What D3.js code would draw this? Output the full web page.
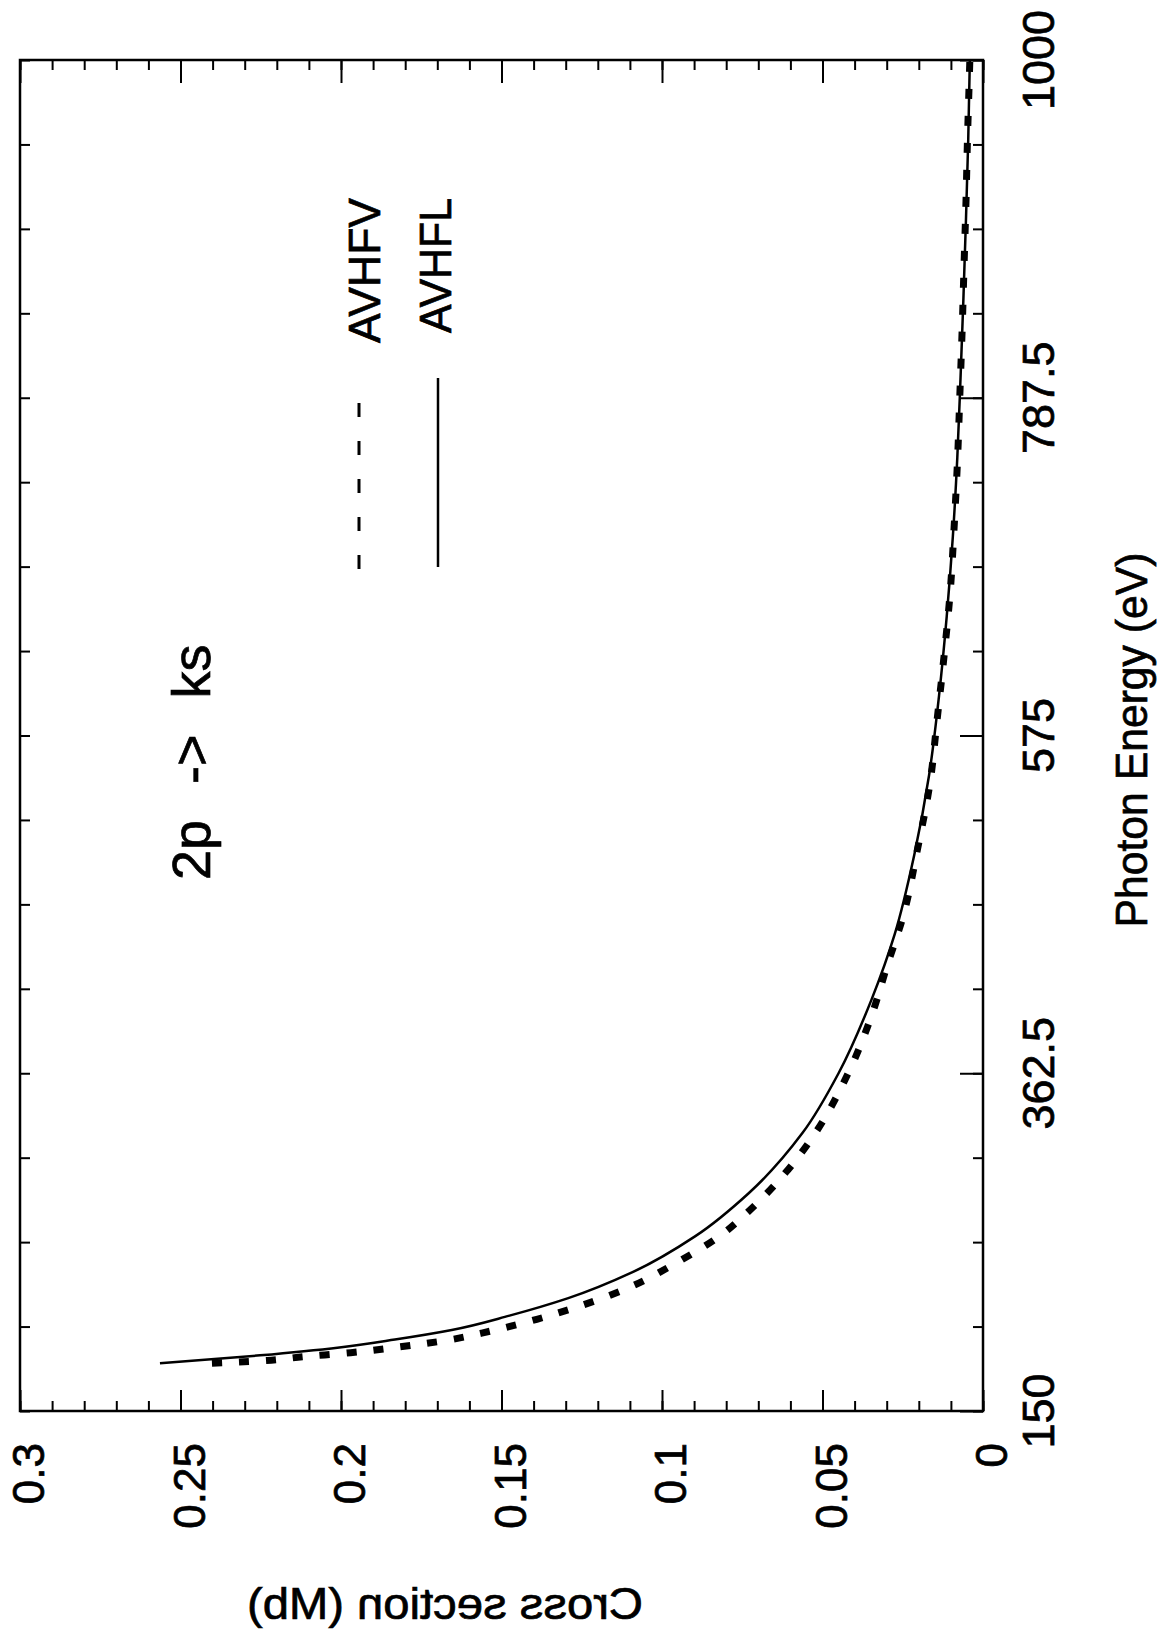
<!DOCTYPE html>
<html><head><meta charset="utf-8">
<script src="https://cdn.jsdelivr.net/npm/d3@7"></script>
<style>
body{margin:0;background:#fff}
text{font-family:"Liberation Sans",Arial,Helvetica,sans-serif;fill:#000;stroke:#000;stroke-width:0.7px}
</style>
</head><body>
<svg id="c" width="1174" height="1634"></svg>
<script>
// AVHFL (solid line): photon energy (eV) and cross section (Mb)
const energyL = [180, 185, 190, 195, 201, 210, 221, 237.5, 260, 287, 325, 362.5, 409, 450, 500, 550, 600, 650, 700, 750, 800, 850, 900, 950, 1000];
const sigmaL  = [0.2564, 0.2252, 0.2005, 0.1832, 0.1655, 0.1475, 0.1292, 0.1090, 0.0896, 0.0730, 0.0562, 0.0450, 0.0347, 0.0275, 0.0214, 0.0168, 0.0137, 0.0113, 0.0094, 0.0080, 0.0070, 0.0061, 0.0053, 0.0046, 0.0041];
// AVHFV (dashed line)
const energyV = [180, 181.5, 184.2, 186.7, 190.1, 194.2, 200.3, 207.7, 216.3, 227.8, 242.9, 261.8, 273.8, 300, 325, 362.5, 400, 428.7, 463.4, 503.5, 545.3, 584.9, 625.6, 665.9, 705.9, 750, 790, 830, 871, 911, 953, 993, 1000];
const sigmaV  = [0.2402, 0.2254, 0.2114, 0.1970, 0.1826, 0.1679, 0.1534, 0.1390, 0.1252, 0.1102, 0.0958, 0.0809, 0.0740, 0.0615, 0.0522, 0.0420, 0.0345, 0.0301, 0.0246, 0.0204, 0.0165, 0.0143, 0.0121, 0.0102, 0.0090, 0.0079, 0.0072, 0.0065, 0.0059, 0.0053, 0.0048, 0.0042, 0.0041];

const energyTicks = [150, 362.5, 575, 787.5, 1000];
const energyTickLabels = ["150", "362.5", "575", "787.5", "1000"];
const sigmaTicks = [0, 0.05, 0.1, 0.15, 0.2, 0.25, 0.3];
const sigmaTickLabels = ["0", "0.05", "0.1", "0.15", "0.2", "0.25", "0.3"];
const seriesNames = ["AVHFV", "AVHFL"];
const annotation = "2p -> ks";
const xTitle = "Photon Energy (eV)";
const yTitle = "Cross section (Mb)";

const svg = d3.select("#c");
const L = 20, R = 983, T = 60, B = 1411;
// The figure is rotated: cross section runs horizontally (0 at right), energy vertically (150 at bottom)
const sx = d3.scaleLinear().domain([0.3, 0]).range([L, R]);
const ey = d3.scaleLinear().domain([150, 1000]).range([B, T]);

const energyMinor = d3.range(0, 17).map(i => 150 + i * 53.125);
const sigmaMinor = d3.range(0, 31).map(i => i * 0.01);

function styleAxis(g) {
  g.select(".domain").remove();
  g.selectAll(".tick line").attr("stroke", "#000").attr("stroke-width", 2);
  g.selectAll(".tick text").remove();
}
// bottom (ticks upward)
svg.append("g").attr("transform", `translate(0,${B})`).call(d3.axisTop(sx).tickValues(sigmaMinor).tickSize(10)).call(styleAxis);
svg.append("g").attr("transform", `translate(0,${B})`).call(d3.axisTop(sx).tickValues(sigmaTicks).tickSize(21)).call(styleAxis);
// top (ticks downward)
svg.append("g").attr("transform", `translate(0,${T})`).call(d3.axisBottom(sx).tickValues(sigmaMinor).tickSize(10)).call(styleAxis);
svg.append("g").attr("transform", `translate(0,${T})`).call(d3.axisBottom(sx).tickValues(sigmaTicks).tickSize(23)).call(styleAxis);
// left (ticks to the right)
svg.append("g").attr("transform", `translate(${L},0)`).call(d3.axisRight(ey).tickValues(energyMinor).tickSize(10)).call(styleAxis);
// right (ticks to the left)
svg.append("g").attr("transform", `translate(${R},0)`).call(d3.axisLeft(ey).tickValues(energyMinor).tickSize(10)).call(styleAxis);
svg.append("g").attr("transform", `translate(${R},0)`).call(d3.axisLeft(ey).tickValues(energyTicks).tickSize(23)).call(styleAxis);

svg.append("rect").attr("x", L).attr("y", T).attr("width", R - L).attr("height", B - T)
  .attr("fill", "none").attr("stroke", "#000").attr("stroke-width", 2.5);

// tick labels
svg.append("g").selectAll("text").data(energyTicks).join("text")
  .attr("transform", d => `translate(1038,${ey(d)}) rotate(-90)`)
  .attr("text-anchor", "middle").attr("dy", "0.35em").attr("font-size", 45)
  .text((d, i) => energyTickLabels[i]);
svg.append("g").selectAll("text").data(sigmaTicks).join("text")
  .attr("transform", d => `translate(${sx(d) + 9},1443) rotate(-90)`)
  .attr("text-anchor", "end").attr("dy", "0.35em").attr("font-size", 44)
  .text((d, i) => sigmaTickLabels[i]);

// axis titles
svg.append("text").attr("transform", "translate(1147,740) rotate(-90)")
  .attr("text-anchor", "middle").attr("font-size", 44)
  .attr("textLength", 375).attr("lengthAdjust", "spacingAndGlyphs").text(xTitle);
svg.append("text").attr("transform", "translate(445,1619) scale(-1,1)")
  .attr("text-anchor", "middle").attr("font-size", 44)
  .attr("textLength", 396).attr("lengthAdjust", "spacingAndGlyphs").text(yTitle);

// annotation
svg.append("text").attr("transform", "translate(210,880) rotate(-90)")
  .attr("text-anchor", "start").attr("font-size", 54).style("word-spacing", "21px").text(annotation);

// curves
const line = (es, ss) => d3.line().x((d, i) => sx(ss[i])).y(d => ey(d)).curve(d3.curveMonotoneY)(es);
svg.append("path").attr("d", line(energyL, sigmaL)).attr("fill", "none").attr("stroke", "#000").attr("stroke-width", 2.5);
svg.append("path").attr("d", line(energyV, sigmaV)).attr("fill", "none").attr("stroke", "#000")
  .attr("stroke-width", 7).attr("stroke-dasharray", "10,17");

// legend
svg.append("line").attr("x1", 359).attr("x2", 359).attr("y1", 403).attr("y2", 570)
  .attr("stroke", "#000").attr("stroke-width", 3).attr("stroke-dasharray", "14,24");
svg.append("line").attr("x1", 438).attr("x2", 438).attr("y1", 378).attr("y2", 567)
  .attr("stroke", "#000").attr("stroke-width", 2.5);
svg.append("text").attr("transform", "translate(380,198) rotate(-90)").attr("text-anchor", "end")
  .attr("font-size", 44).attr("textLength", 145).attr("lengthAdjust", "spacingAndGlyphs").text(seriesNames[0]);
svg.append("text").attr("transform", "translate(451,198) rotate(-90)").attr("text-anchor", "end")
  .attr("font-size", 44).attr("textLength", 135).attr("lengthAdjust", "spacingAndGlyphs").text(seriesNames[1]);
</script>
</body></html>
